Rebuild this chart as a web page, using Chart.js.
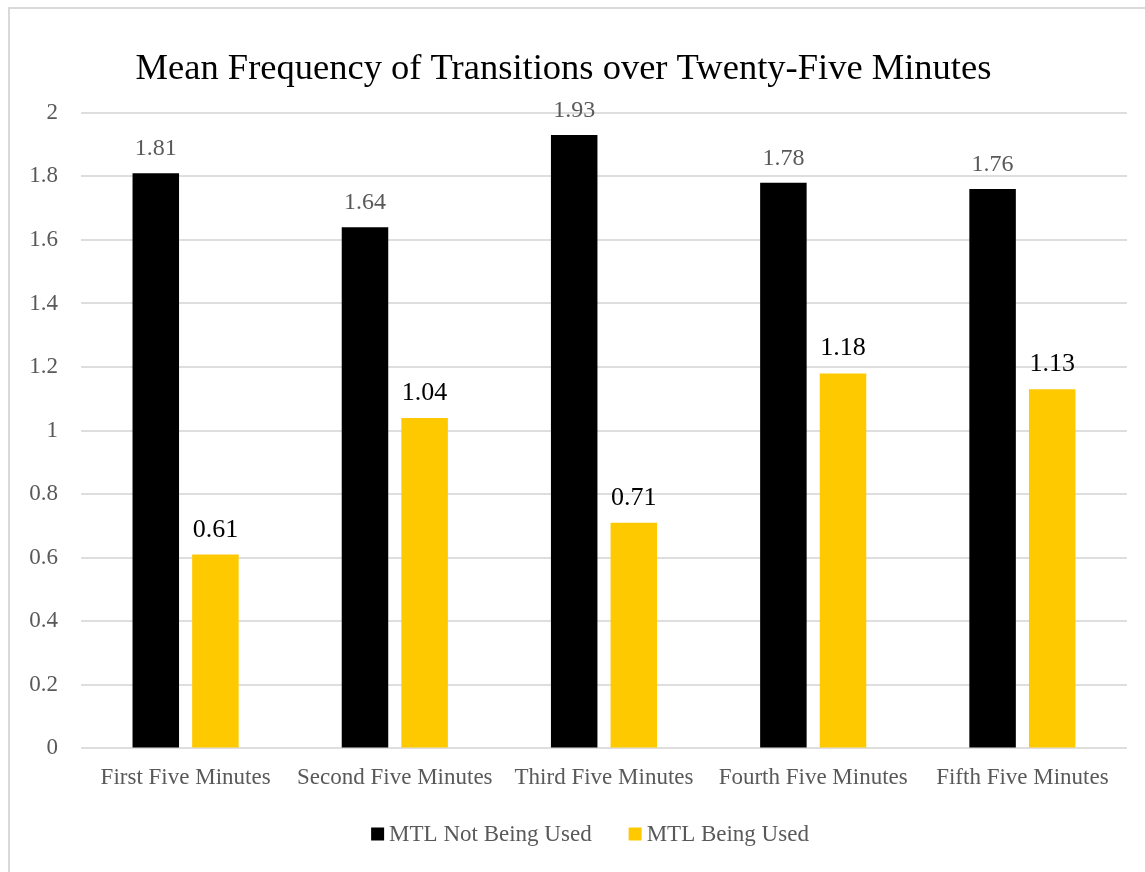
<!DOCTYPE html>
<html>
<head>
<meta charset="utf-8">
<script src="https://cdn.jsdelivr.net/npm/chart.js@4/dist/chart.umd.min.js"></script>
<style>
  html, body { margin: 0; padding: 0; background: #ffffff; }
  #wrap { position: relative; width: 1145px; height: 872px; overflow: hidden; }
  canvas { display: block; }
</style>
</head>
<body>
<div id="wrap"><canvas id="chart" width="1145" height="872"></canvas></div>
<script>
// Five-minute intervals of the session
const categories = ['First Five Minutes', 'Second Five Minutes', 'Third Five Minutes', 'Fourth Five Minutes', 'Fifth Five Minutes'];

// Mean number of transitions per interval
const notUsedValues = [1.81, 1.64, 1.93, 1.78, 1.76];
const usedValues = [0.61, 1.04, 0.71, 1.18, 1.13];

const seriesNames = ['MTL Not Being Used', 'MTL Being Used'];
const seriesColors = ['#000000', '#ffc900'];
const yTicks = [0, 0.2, 0.4, 0.6, 0.8, 1, 1.2, 1.4, 1.6, 1.8, 2];

const FONT = "'Liberation Serif', 'DejaVu Serif', serif";
const GREY = '#595959';

// Light frame around the chart
const framePlugin = {
  id: 'frame',
  beforeDraw(chart) {
    const ctx = chart.ctx;
    ctx.save();
    ctx.fillStyle = '#ffffff';
    ctx.fillRect(0, 0, chart.width, chart.height);
    ctx.strokeStyle = '#d9d9d9';
    ctx.lineWidth = 2;
    ctx.strokeRect(9, 8, chart.width + 20, chart.height + 20);
    ctx.restore();
  }
};

// Value labels above each bar
const valueLabels = {
  id: 'valueLabels',
  afterDatasetsDraw(chart) {
    const ctx = chart.ctx;
    ctx.save();
    ctx.textAlign = 'center';
    ctx.textBaseline = 'alphabetic';
    chart.data.datasets.forEach((ds, di) => {
      const meta = chart.getDatasetMeta(di);
      ctx.fillStyle = di === 0 ? GREY : '#000000';
      ctx.font = (di === 0 ? '24px ' : '26px ') + FONT;
      meta.data.forEach((bar, i) => {
        ctx.fillText(ds.data[i].toFixed(2), bar.x, bar.y - 18);
      });
    });
    ctx.restore();
  }
};

// Compact legend row below the category labels
const bottomLegend = {
  id: 'bottomLegend',
  afterDraw(chart) {
    const ctx = chart.ctx;
    const box = 13, gap = 5, itemGap = 37;
    const cy = 834;
    ctx.save();
    ctx.font = '23px ' + FONT;
    ctx.textBaseline = 'middle';
    ctx.textAlign = 'left';
    const items = chart.data.datasets.map(ds => ({
      text: ds.label,
      color: ds.backgroundColor,
      w: box + gap + ctx.measureText(ds.label).width
    }));
    const total = items.reduce((s, it) => s + it.w, 0) + itemGap * (items.length - 1);
    let x = 590 - total / 2;
    items.forEach(it => {
      ctx.fillStyle = it.color;
      ctx.fillRect(x, cy - box / 2, box, box);
      ctx.fillStyle = GREY;
      ctx.fillText(it.text, x + box + gap, cy + 1);
      x += it.w + itemGap;
    });
    ctx.restore();
  }
};

new Chart(document.getElementById('chart'), {
  type: 'bar',
  data: {
    labels: categories,
    datasets: [
      { label: seriesNames[0], data: notUsedValues, backgroundColor: seriesColors[0], borderWidth: 0 },
      { label: seriesNames[1], data: usedValues, backgroundColor: seriesColors[1], borderWidth: 0 }
    ]
  },
  options: {
    responsive: false,
    animation: false,
    devicePixelRatio: 1,
    layout: { padding: { left: 0, right: 18, top: 0, bottom: 72 } },
    datasets: { bar: { categoryPercentage: 0.57, barPercentage: 0.78 } },
    plugins: {
      title: {
        display: true,
        text: 'Mean Frequency of Transitions over Twenty-Five Minutes',
        color: '#000000',
        font: { family: FONT, size: 36.5, weight: 'normal' },
        padding: { top: 48, bottom: 21 }
      },
      legend: { display: false },
      tooltip: { enabled: false }
    },
    scales: {
      x: {
        grid: { display: false },
        border: { display: false },
        ticks: { color: GREY, font: { family: FONT, size: 23 }, padding: 8, maxRotation: 0, autoSkip: false }
      },
      y: {
        min: 0,
        max: 2,
        afterBuildTicks(scale) { scale.ticks = yTicks.map(v => ({ value: v })); },
        afterFit(scale) { scale.width = 81; },
        grid: { color: '#dedede', lineWidth: 2, drawTicks: false },
        border: { display: false },
        ticks: {
          color: GREY,
          font: { family: FONT, size: 23 },
          padding: 23,
          callback: v => String(+Number(v).toFixed(1))
        }
      }
    }
  },
  plugins: [framePlugin, valueLabels, bottomLegend]
});
</script>
</body>
</html>
